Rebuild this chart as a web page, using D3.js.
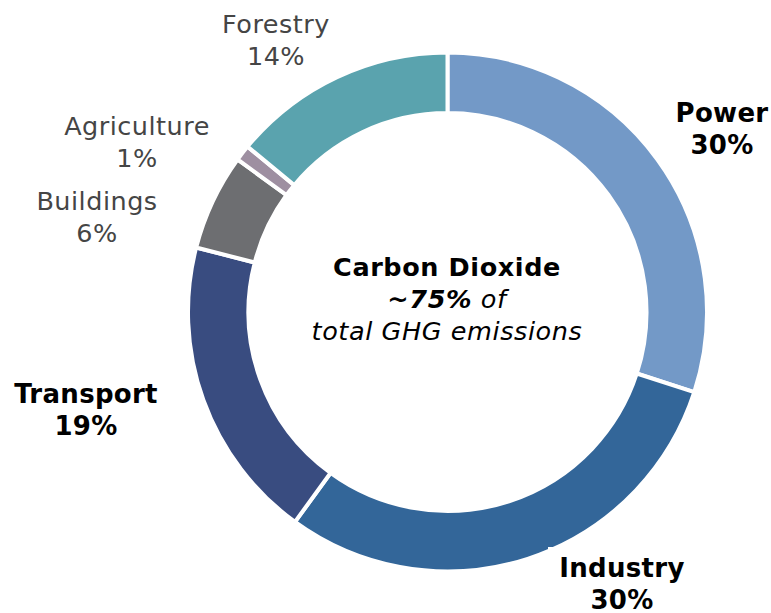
<!DOCTYPE html>
<html>
<head>
<meta charset="utf-8">
<script src="https://cdn.jsdelivr.net/npm/d3@7"></script>
<style>
  html, body { margin: 0; padding: 0; background: #fff; }
  svg { display: block; }
  text { font-family: "DejaVu Sans", Verdana, sans-serif; }
</style>
</head>
<body>
<svg id="chart" width="771" height="613"></svg>
<script>
const categories = ["Power", "Industry", "Transport", "Buildings", "Agriculture", "Forestry"];
const values = [30, 30, 19, 6, 1, 14];
const colors = ["#7399C7", "#336699", "#394C80", "#6D6E71", "#9E8FA1", "#5AA3AE"];
const boldLabels = [true, true, true, false, false, false];
// label anchor positions (center x, first-line baseline y)
const labelPos = [[722, 122], [622, 577], [86, 403], [97, 210], [137, 135], [276, 33]];
const centerLines = ["Carbon Dioxide", "~75%", "of", "total GHG emissions"];

const svg = d3.select("#chart");
const cx = 447.5, cy = 312, rOuter = 259.5, rInner = 199;

const pie = d3.pie().sort(null).value(d => d)(values);
const arc = d3.arc().innerRadius(rInner).outerRadius(rOuter);

const g = svg.append("g").attr("transform", `translate(${cx},${cy})`);
g.selectAll("path").data(pie).join("path")
  .attr("d", arc)
  .attr("fill", (d, i) => colors[i])
  .attr("stroke", "#fff")
  .attr("stroke-width", 4)
  .attr("stroke-linejoin", "miter");

// white background box behind Industry label (overlaps donut edge)
svg.append("rect").attr("x", 548).attr("y", 547).attr("width", 160).attr("height", 70).attr("fill", "#fff");

const labels = svg.append("g");
categories.forEach((c, i) => {
  const [x, y] = labelPos[i];
  const t = labels.append("text")
    .attr("text-anchor", "middle")
    .attr("font-size", boldLabels[i] ? 26 : 25.5)
    .attr("letter-spacing", boldLabels[i] ? 0.3 : 0.5)
    .attr("font-weight", boldLabels[i] ? "bold" : "normal")
    .attr("fill", boldLabels[i] ? "#000" : "#454545");
  t.append("tspan").attr("x", x).attr("y", y).text(c);
  t.append("tspan").attr("x", x).attr("y", y + 32).text(values[i] + "%");
});

const ct = svg.append("g").attr("font-size", 25.5).attr("letter-spacing", 0.6)
  .attr("text-anchor", "middle").attr("fill", "#000");
ct.append("text").attr("x", 447).attr("y", 276).attr("font-weight", "bold").text(centerLines[0]);
const t2 = ct.append("text").attr("x", 447).attr("y", 308).attr("font-style", "italic");
t2.append("tspan").attr("font-weight", "bold").text(centerLines[1]);
t2.append("tspan").text(" " + centerLines[2]);
ct.append("text").attr("x", 447).attr("y", 340).attr("font-style", "italic").text(centerLines[3]);
</script>
</body>
</html>
